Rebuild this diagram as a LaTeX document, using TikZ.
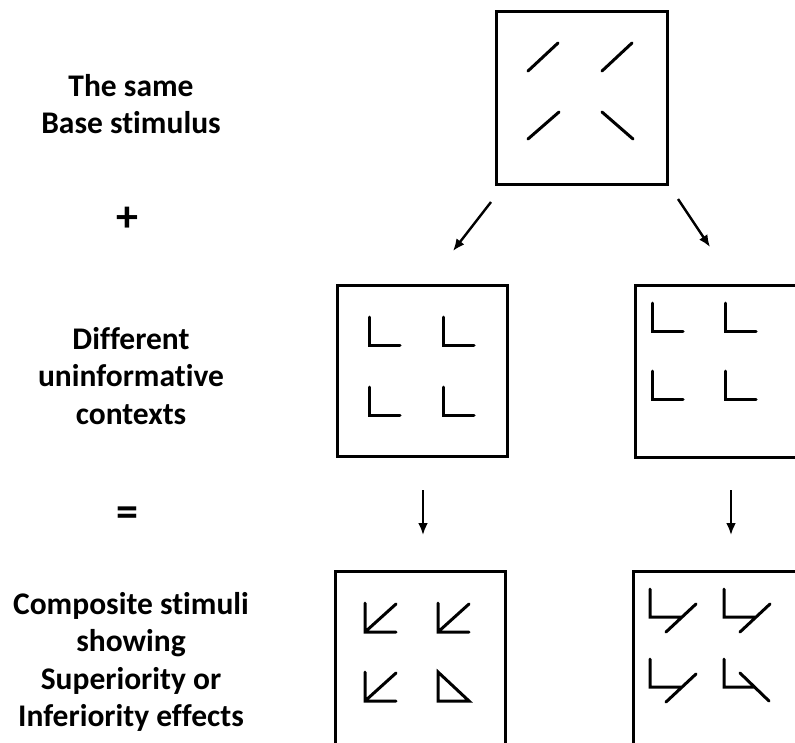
\documentclass[tikz,border=0pt]{standalone}
\usepackage{fontspec}
\setmainfont[Ligatures=NoCommon]{Carlito}
\usetikzlibrary{arrows.meta}
\tikzset{
  frame/.style={draw=black, line width=3pt, fill=none},
  seg/.style={draw=black, line width=3pt, line join=miter, line cap=round},
  flow/.style={draw=black, line width=2.4pt, -{Latex[length=12pt,width=10pt]}},
  lbl/.style={font=\bfseries\fontsize{31.5}{37.5}\selectfont, align=center, inner sep=0pt},
  sym/.style={font=\bfseries\fontsize{44}{46}\selectfont, inner sep=0pt}
}
\begin{document}
\begin{tikzpicture}[x=1pt,y=-1pt]
\useasboundingbox (0,0) rectangle (795,742);
\clip (0,0) rectangle (795,742);
\fill[white] (0,0) rectangle (795,742);

% left column labels
\node[lbl] (t1) at (131,104) {The same\\Base stimulus};
\node[sym] (plus) at (127,219) {+};
\node[lbl] (t2) at (131,376) {Different\\uninformative\\contexts};
\node[sym] (eq) at (127,517) {=};
\node[lbl] (t3) at (131,662) {Composite stimuli\\showing\\Superiority or\\Inferiority effects};

% boxes
\node[frame, minimum width=171pt, minimum height=173pt, inner sep=0pt] (base) at (581.5,97.5) {};
\node[frame, minimum width=170pt, minimum height=171pt, inner sep=0pt] (ctxA) at (422,370.5) {};
\node[frame, minimum width=200pt, minimum height=172pt, inner sep=0pt] (ctxB) at (735,371) {};
\node[frame, minimum width=170pt, minimum height=200pt, inner sep=0pt] (compA) at (420,671) {};
\node[frame, minimum width=200pt, minimum height=200pt, inner sep=0pt] (compB) at (733,671) {};

% base stimulus lines
\draw[seg] (528,71) -- (558,43);
\draw[seg] (602,71) -- (632,43);
\draw[seg] (528,139) -- (559,112);
\draw[seg] (602,112) -- (633,139);

% context A (L shapes)
\foreach \cx/\cy in {369/345, 443/345, 369/415, 443/415}
  \draw[seg] (\cx,\cy-28) -- (\cx,\cy) -- (\cx+31,\cy);
% context B (L shapes)
\foreach \cx/\cy in {652/331, 725/331, 652/399, 725/399}
  \draw[seg] (\cx,\cy-28) -- (\cx,\cy) -- (\cx+31,\cy);

% composite A
\foreach \cx/\cy in {365/632, 438/632, 365/701}
  \draw[seg] (\cx,\cy-29) -- (\cx,\cy) -- (\cx+31,\cy) (\cx,\cy) -- (\cx+31,\cy-28);
\draw[seg] (438,672) -- (438,701) -- (469,701) -- cycle;

% composite B
\foreach \cx/\cy in {650/617, 724/617, 650/687}
  \draw[seg] (\cx,\cy-28) -- (\cx,\cy) -- (\cx+31,\cy) (\cx+16,\cy+15) -- (\cx+46,\cy-13);
\draw[seg] (724,659) -- (724,687) -- (755,687) (740,673) -- (769,701);

% arrows
\coordinate (a1s) at (491,202); \coordinate (a1e) at (453,251);
\coordinate (a2s) at (678,199); \coordinate (a2e) at (710,247);
\coordinate (a3s) at (423,490); \coordinate (a3e) at (423,535);
\coordinate (a4s) at (731,490); \coordinate (a4e) at (731,535);
\draw[flow] (a1s) -- (a1e);
\draw[flow] (a2s) -- (a2e);
\draw[flow] (a3s) -- (a3e);
\draw[flow] (a4s) -- (a4e);
\end{tikzpicture}
\end{document}
